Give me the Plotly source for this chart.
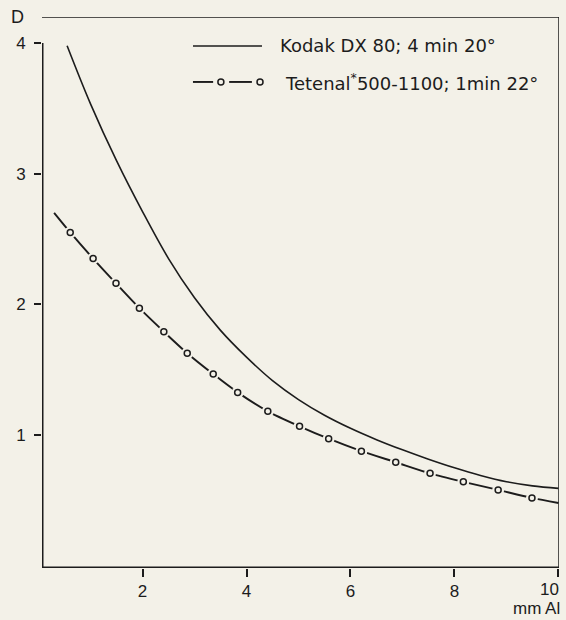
import plotly.graph_objects as go

# ---- data ----
kodak_x = [0.55, 1.0, 1.5, 2.0, 2.5, 3.0, 3.5, 4.0, 4.5, 5.0, 5.5, 6.0, 6.5, 7.0, 7.5, 8.0, 8.5, 9.0, 9.5, 10.0]
kodak_y = [3.98, 3.535, 3.10, 2.71, 2.35, 2.05, 1.80, 1.595, 1.415, 1.27, 1.15, 1.05, 0.963, 0.885, 0.813, 0.747, 0.689, 0.641, 0.609, 0.59]

tet_x = [0.61, 1.05, 1.49, 1.94, 2.41, 2.86, 3.36, 3.83, 4.41, 5.02, 5.58, 6.21, 6.87, 7.53, 8.17, 8.84, 9.49]
tet_y = [2.55, 2.35, 2.16, 1.97, 1.79, 1.625, 1.465, 1.325, 1.18, 1.065, 0.97, 0.875, 0.79, 0.705, 0.64, 0.578, 0.517]
tet_start = (0.30, 2.70)
tet_end = (10.0, 0.478)

x_ticks = [2, 4, 6, 8, 10]
x_ticktext = ["2", "4", "6", "8", ""]   # "10" drawn as an annotation so it stays inside the page
last_x_label = "10"
y_ticks = [1, 2, 3, 4]

kodak_label = "Kodak DX 80; 4 min 20°"
tet_label = "Tetenal<sup>*</sup>500-1100; 1min 22°"

BG = "#f3f1e8"
INK = "#1c1c1c"
FONT = "Liberation Sans, Arial, sans-serif"
LFONT = "DejaVu Sans, Verdana, sans-serif"

X_MIN, X_MAX = 0.067, 10.01
Y_MIN, Y_MAX = -0.02, 4.2

fig = go.Figure()

fig.add_trace(go.Scatter(x=kodak_x, y=kodak_y, mode="lines",
                         line=dict(color=INK, width=1.6, shape="spline", smoothing=1.0),
                         showlegend=False, hoverinfo="skip"))

line_x = [tet_start[0]] + tet_x + [tet_end[0]]
line_y = [tet_start[1]] + tet_y + [tet_end[1]]
fig.add_trace(go.Scatter(x=line_x, y=line_y, mode="lines",
                         line=dict(color=INK, width=1.9, shape="spline", smoothing=0.8),
                         showlegend=False, hoverinfo="skip"))
# mask behind markers to create gaps in the line
fig.add_trace(go.Scatter(x=tet_x, y=tet_y, mode="markers",
                         marker=dict(size=12, color=BG, line=dict(width=0)),
                         showlegend=False, hoverinfo="skip"))
fig.add_trace(go.Scatter(x=tet_x, y=tet_y, mode="markers",
                         marker=dict(size=6, color=BG, line=dict(color=INK, width=1.5)),
                         showlegend=False, hoverinfo="skip"))

shapes = []
# frame lines
shapes.append(dict(type="line", xref="x", yref="y", x0=X_MIN, x1=X_MIN, y0=Y_MIN, y1=4.0,
                   line=dict(color=INK, width=3)))
shapes.append(dict(type="line", xref="x", yref="y", x0=X_MIN - 0.04, x1=X_MAX, y0=Y_MIN, y1=Y_MIN,
                   line=dict(color=INK, width=3)))
shapes.append(dict(type="line", xref="x", yref="y", x0=X_MAX, x1=X_MAX, y0=Y_MIN, y1=Y_MAX,
                   line=dict(color=INK, width=1.5)))
shapes.append(dict(type="line", xref="x", yref="y", x0=X_MIN - 0.04, x1=X_MAX, y0=Y_MAX, y1=Y_MAX,
                   line=dict(color=INK, width=1.5)))

# custom legend glyphs (paper coords)
ly1, ly2 = 0.9474, 0.8821
shapes.append(dict(type="line", xref="paper", yref="paper", x0=0.292, x1=0.4255, y0=ly1, y1=ly1,
                   line=dict(color=INK, width=1.6)))
shapes.append(dict(type="line", xref="paper", yref="paper", x0=0.292, x1=0.331, y0=ly2, y1=ly2,
                   line=dict(color=INK, width=1.9)))
shapes.append(dict(type="line", xref="paper", yref="paper", x0=0.362, x1=0.406, y0=ly2, y1=ly2,
                   line=dict(color=INK, width=1.9)))
for cx in (0.346, 0.4217):
    shapes.append(dict(type="circle", xref="paper", yref="paper", xsizemode="pixel", ysizemode="pixel",
                       xanchor=cx, yanchor=ly2, x0=-3, x1=3, y0=-3, y1=3,
                       line=dict(color=INK, width=1.5), fillcolor=BG))

annotations = [
    dict(text=kodak_label, xref="paper", yref="paper", x=0.4565, y=ly1, xanchor="left", yanchor="middle",
         showarrow=False, font=dict(size=18, color=INK, family=LFONT)),
    dict(text=tet_label, xref="paper", yref="paper", x=0.466, y=ly2, xanchor="left", yanchor="middle",
         showarrow=False, font=dict(size=18, color=INK, family=LFONT)),
    dict(text="D", xref="paper", yref="paper", x=-0.048, y=1.0, xanchor="center", yanchor="middle",
         showarrow=False, font=dict(size=18, color=INK, family=FONT)),
    dict(text=last_x_label, xref="x", yref="paper", x=x_ticks[-1], y=-0.0395, xanchor="right",
         yanchor="middle", xshift=3, showarrow=False, font=dict(size=17, color=INK, family=FONT)),
    dict(text="mm Al", xref="paper", yref="paper", x=1.0058, y=-0.0738, xanchor="right", yanchor="middle",
         showarrow=False, font=dict(size=17, color=INK, family=FONT)),
]

fig.update_layout(
    width=566, height=620,
    margin=dict(l=42, r=7, t=17, b=52, autoexpand=False),
    paper_bgcolor=BG, plot_bgcolor=BG,
    showlegend=False,
    shapes=shapes, annotations=annotations,
    font=dict(family=FONT, color=INK),
    xaxis=dict(range=[X_MIN, X_MAX], tickvals=x_ticks, ticktext=x_ticktext,
               ticks="outside", ticklen=8, tickwidth=1.5, tickcolor=INK, automargin=False,
               showgrid=False, zeroline=False, showline=False,
               tickfont=dict(size=17, color=INK, family=FONT)),
    yaxis=dict(range=[Y_MIN, Y_MAX], tickvals=y_ticks, automargin=False,
               ticks="outside", ticklen=7, tickwidth=1.5, tickcolor=INK,
               showgrid=False, zeroline=False, showline=False, ticklabelstandoff=5,
               tickfont=dict(size=17, color=INK, family=FONT)),
)

fig.write_html("out.html")
